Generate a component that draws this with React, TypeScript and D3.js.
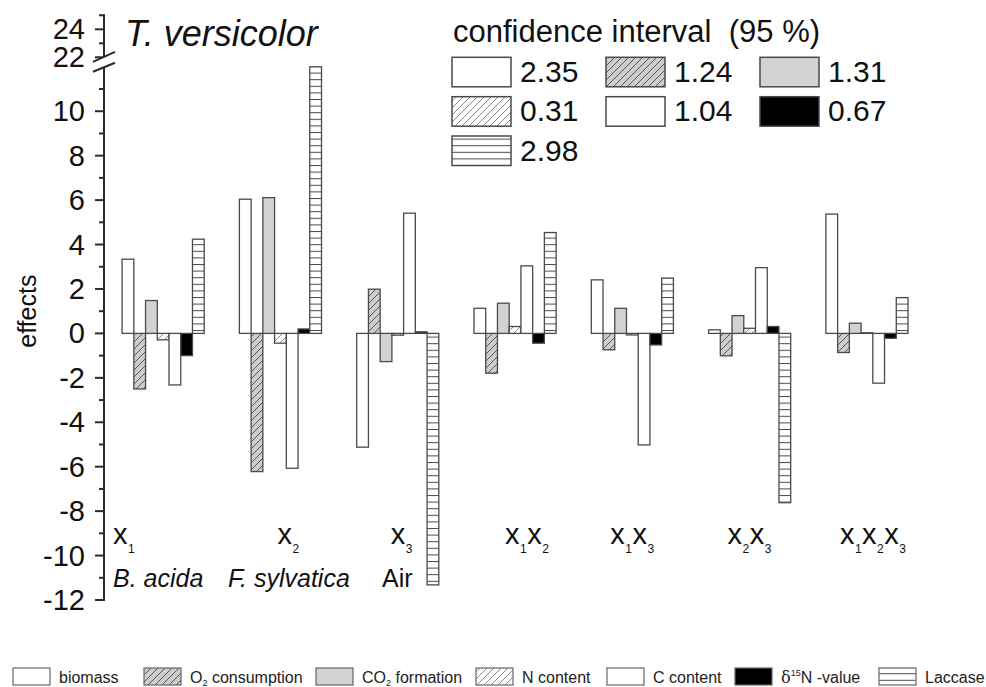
import React from "react";
import * as d3 from "d3";

const groups = ["x1", "x2", "x3", "x1x2", "x1x3", "x2x3", "x1x2x3"];
const seriesKeys = ["biomass", "o2", "co2", "nContent", "cContent", "d15n", "laccase"];

const biomass = [3.34, 6.04, -5.12, 1.13, 2.41, 0.16, 5.37];
const o2Consumption = [-2.5, -6.22, 1.99, -1.79, -0.74, -1.01, -0.86];
const co2Formation = [1.48, 6.11, -1.27, 1.36, 1.13, 0.8, 0.46];
const nContent = [-0.29, -0.44, -0.08, 0.31, -0.07, 0.23, 0.03];
const cContent = [-2.32, -6.07, 5.41, 3.04, -5.02, 2.96, -2.24];
const d15nValue = [-1.0, 0.2, 0.07, -0.44, -0.52, 0.31, -0.22];
const laccase = [4.24, 21.8, -11.32, 4.54, 2.49, -7.62, 1.61];

const seriesValues = [biomass, o2Consumption, co2Formation, nContent, cContent, d15nValue, laccase];
const confidenceValues = ["2.35", "1.24", "1.31", "0.31", "1.04", "0.67", "2.98"];

const lowMajorTicks = [-12, -10, -8, -6, -4, -2, 0, 2, 4, 6, 8, 10];
const lowMinorTicks = [-11, -9, -7, -5, -3, -1, 1, 3, 5, 7, 9, 11];
const highMajorTicks = [22, 24];
const highMinorTicks = [23, 25];

// styling
const fills: Record<string, string> = {
  biomass: "#ffffff",
  o2: "url(#hatchO2)",
  co2: "#d2d2d2",
  nContent: "url(#hatchN)",
  cContent: "#ffffff",
  d15n: "#000000",
  laccase: "url(#hLines)",
};

const FONT = "'Liberation Sans', Arial, Helvetica, sans-serif";
const STROKE = "#4a4a4a";

const W = 986;
const H = 687;
const axisX = 104;

// group label layout (start offsets relative to group start)
const groupLabelDx = [-9, 38, 34, 31, 19, 19, 14];

// bottom legend layout
const bottomLegendX = [13, 144, 316, 476, 607, 735, 879];

function GroupLabel({ name, x, y }: { name: string; x: number; y: number }) {
  const parts = name.match(/x\d/g) || [];
  const spans: React.ReactNode[] = [];
  parts.forEach((p, i) => {
    spans.push(
      <tspan key={"x" + i} dx={i === 0 ? 0 : 0.5} dy={i === 0 ? 0 : -9} fontSize={29}>
        x
      </tspan>
    );
    spans.push(
      <tspan key={"s" + i} dx={0.5} dy={9} fontSize={12}>
        {p[1]}
      </tspan>
    );
  });
  return (
    <text x={x} y={y} fontFamily={FONT} fill="#111">
      {spans}
    </text>
  );
}

export default function App() {
  const x0 = d3
    .scaleBand<string>()
    .domain(groups)
    .range([104.5, 925.6])
    .paddingInner(0.3)
    .paddingOuter(0.15);
  const x1 = d3.scaleBand<string>().domain(seriesKeys).range([0, x0.bandwidth()]);
  const yLow = d3.scaleLinear().domain([-12, 12]).range([600, 66.8]).clamp(true);
  const yHigh = d3.scaleLinear().domain([22, 25]).range([57.3, 15.3]);

  const bars: React.ReactNode[] = [];
  groups.forEach((g, gi) => {
    seriesKeys.forEach((s, si) => {
      const v = seriesValues[si][gi];
      const ya = yLow(0);
      const yb = yLow(v);
      const top = Math.min(ya, yb);
      const h = Math.abs(yb - ya);
      bars.push(
        <rect
          key={g + s}
          x={(x0(g) as number) + (x1(s) as number)}
          y={top}
          width={x1.bandwidth()}
          height={h}
          fill={fills[s]}
          stroke={STROKE}
          strokeWidth={1.3}
        />
      );
    });
  });

  const breakLow = yLow(12);
  const breakHigh = yHigh(22);

  const topLegendCols = [452, 606, 760];
  const topLegendRows = [57.3, 96.7, 136];

  const bottomLabels: React.ReactNode[] = [
    <tspan key="b">biomass</tspan>,
    <>
      <tspan>O</tspan>
      <tspan fontSize={9} dy={3}>2</tspan>
      <tspan dy={-3}> consumption</tspan>
    </>,
    <>
      <tspan>CO</tspan>
      <tspan fontSize={9} dy={3}>2</tspan>
      <tspan dy={-3}> formation</tspan>
    </>,
    <tspan key="n">N content</tspan>,
    <tspan key="c">C content</tspan>,
    <>
      <tspan fontFamily="'DejaVu Serif', 'Liberation Serif', serif">δ</tspan>
      <tspan fontSize={9} dy={-7}>15</tspan>
      <tspan dy={7}>N -value</tspan>
    </>,
    <tspan key="l">Laccase</tspan>,
  ];

  return (
    <svg
      width={W}
      height={H}
      style={{ position: "absolute", left: 0, top: 0, background: "#fff" }}
      fontFamily={FONT}
    >
      <defs>
        <pattern id="hatchO2" patternUnits="userSpaceOnUse" width={7} height={7}>
          <rect width={7} height={7} fill="#cdcdcd" />
          <path d="M-1,1 l2,-2 M0,7 l7,-7 M6,8 l2,-2" stroke="#4a4a4a" strokeWidth={0.9} />
        </pattern>
        <pattern id="hatchN" patternUnits="userSpaceOnUse" width={7} height={7}>
          <rect width={7} height={7} fill="#ffffff" />
          <path d="M-1,1 l2,-2 M0,7 l7,-7 M6,8 l2,-2" stroke="#6a6a6a" strokeWidth={0.8} />
        </pattern>
        <pattern id="hLines" patternUnits="userSpaceOnUse" width={8} height={6.6}>
          <rect width={8} height={6.6} fill="#ffffff" />
          <line x1={0} x2={8} y1={0.5} y2={0.5} stroke="#4a4a4a" strokeWidth={1} />
        </pattern>
      </defs>

      {/* bars */}
      <g>{bars}</g>

      {/* y axis lower segment */}
      <line x1={axisX} x2={axisX} y1={yLow(-12) + 1} y2={breakLow} stroke="#2a2a2a" strokeWidth={2} />
      {lowMajorTicks.map((t) => (
        <g key={"M" + t}>
          <line x1={axisX - 9} x2={axisX} y1={yLow(t)} y2={yLow(t)} stroke="#2a2a2a" strokeWidth={2} />
          <text x={axisX - 19} y={yLow(t) + 10} fontSize={29} textAnchor="end" fill="#111">
            {t}
          </text>
        </g>
      ))}
      {lowMinorTicks.map((t) => (
        <line key={"m" + t} x1={axisX - 5} x2={axisX} y1={yLow(t)} y2={yLow(t)} stroke="#2a2a2a" strokeWidth={2} />
      ))}

      {/* y axis upper segment */}
      <line x1={axisX} x2={axisX} y1={yHigh(25) - 1} y2={breakHigh} stroke="#2a2a2a" strokeWidth={2} />
      {highMajorTicks.map((t) => (
        <g key={"HM" + t}>
          <line x1={axisX - 9} x2={axisX} y1={yHigh(t)} y2={yHigh(t)} stroke="#2a2a2a" strokeWidth={2} />
          <text x={axisX - 19} y={yHigh(t) + 10} fontSize={29} textAnchor="end" fill="#111">
            {t}
          </text>
        </g>
      ))}
      {highMinorTicks.map((t) => (
        <line key={"hm" + t} x1={axisX - 5} x2={axisX} y1={yHigh(t)} y2={yHigh(t)} stroke="#2a2a2a" strokeWidth={2} />
      ))}

      {/* axis break marks */}
      <polygon
        points={`${axisX - 11},${breakHigh + 4.5} ${axisX + 11},${breakHigh - 5.5} ${axisX + 11},${breakLow - 4} ${axisX - 11},${breakLow + 5}`}
        fill="#fff"
      />
      <line x1={axisX - 11} y1={breakHigh + 4.5} x2={axisX + 11} y2={breakHigh - 5.5} stroke="#2a2a2a" strokeWidth={2} />
      <line x1={axisX - 11} y1={breakLow + 5} x2={axisX + 11} y2={breakLow - 4} stroke="#2a2a2a" strokeWidth={2} />

      {/* y axis title */}
      <text
        transform={`translate(36, ${yLow(1)}) rotate(-90)`}
        textAnchor="middle"
        fontSize={25}
        fill="#111"
      >
        effects
      </text>

      {/* chart title */}
      <text x={125} y={46} fontSize={36} fontStyle="italic" fill="#111">
        T. versicolor
      </text>

      {/* group labels */}
      {groups.map((g, i) => (
        <GroupLabel key={g} name={g} x={(x0(g) as number) + groupLabelDx[i]} y={544} />
      ))}

      {/* species labels */}
      <text x={113} y={587} fontSize={25} fontStyle="italic" fill="#111">
        B. acida
      </text>
      <text x={228} y={587} fontSize={25} fontStyle="italic" fill="#111">
        F. sylvatica
      </text>
      <text x={382} y={587} fontSize={25} fill="#111">
        Air
      </text>

      {/* confidence interval legend */}
      <text x={453} y={42} fontSize={31} fill="#111">
        {"confidence interval\u00A0\u00A0(95 %)"}
      </text>
      {seriesKeys.map((s, i) => {
        const col = i < 6 ? i % 3 : 0;
        const row = Math.floor(i / 3);
        const bx = topLegendCols[col];
        const by = topLegendRows[row];
        return (
          <g key={"tl" + s}>
            <rect x={bx} y={by} width={59} height={29.5} fill={fills[s]} stroke={STROKE} strokeWidth={1.5} />
            <text x={bx + 68} y={by + 24.5} fontSize={30} fill="#111">
              {confidenceValues[i]}
            </text>
          </g>
        );
      })}

      {/* bottom legend */}
      {seriesKeys.map((s, i) => (
        <g key={"bl" + s}>
          <rect x={bottomLegendX[i]} y={668} width={37} height={17} fill={fills[s]} stroke="#666" strokeWidth={1.2} />
          <text x={bottomLegendX[i] + 46} y={683} fontSize={16} fill="#222">
            {bottomLabels[i]}
          </text>
        </g>
      ))}
    </svg>
  );
}
